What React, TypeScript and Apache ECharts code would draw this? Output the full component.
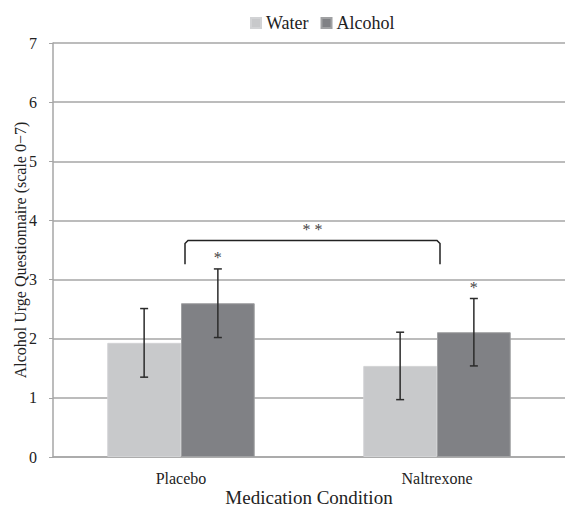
import React, { useEffect, useRef } from "react";
import * as echarts from "echarts";

const categories = ["Placebo", "Naltrexone"];
const seriesNames = ["Water", "Alcohol"];
const waterMeans = [1.93, 1.54];
const alcoholMeans = [2.6, 2.11];
const waterErr = [0.58, 0.57];
const alcoholErr = [0.58, 0.57];
const yTicks = [0, 1, 2, 3, 4, 5, 6, 7];
const bracketY = [3.66, 3.26];
const bracketLabel = "* *";
const starLabel = "*";

const FONT = "'Liberation Serif', 'Times New Roman', serif";
const WATER_COLOR = "#c8c9cb";
const ALCOHOL_COLOR = "#808185";
const BAR_FRAC = 0.288;

export default function App() {
  const ref = useRef<HTMLDivElement>(null);
  useEffect(() => {
    if (!ref.current) return;
    const chart = echarts.init(ref.current, undefined, { renderer: "svg" });

    const errData = (means: number[], errs: number[], side: number) =>
      means.map((m, i) => [i, m - errs[i], m + errs[i], side]);

    const errRender = (params: any, api: any) => {
      const idx = api.value(0);
      const lo = api.value(1);
      const hi = api.value(2);
      const side = api.value(3);
      const band = api.size([1, 0])[0];
      const off = side * band * BAR_FRAC / 2;
      const pLo = api.coord([idx, lo]);
      const pHi = api.coord([idx, hi]);
      const x = pLo[0] + off;
      const cap = 4;
      const style = { stroke: "#2b2b2b", lineWidth: 1.5 };
      return {
        type: "group",
        children: [
          { type: "line", shape: { x1: x, y1: pLo[1], x2: x, y2: pHi[1] }, style },
          { type: "line", shape: { x1: x - cap, y1: pLo[1], x2: x + cap, y2: pLo[1] }, style },
          { type: "line", shape: { x1: x - cap, y1: pHi[1], x2: x + cap, y2: pHi[1] }, style },
        ],
      };
    };

    const starRender = (params: any, api: any) => {
      const idx = api.value(0);
      const top = api.value(1);
      const band = api.size([1, 0])[0];
      const off = band * BAR_FRAC / 2;
      const p = api.coord([idx, top]);
      return {
        type: "text",
        x: p[0] + off,
        y: p[1] - 3,
        style: {
          text: starLabel,
          fontFamily: FONT,
          fontSize: 16,
          fill: "#444",
          align: "center",
          verticalAlign: "bottom",
        },
      };
    };

    const bracketRender = (params: any, api: any) => {
      if (params.dataIndex !== 0) return null;
      const a = api.coord([0, bracketY[0]]);
      const b = api.coord([1, bracketY[0]]);
      const bottom = api.coord([0, bracketY[1]])[1];
      const x1 = a[0] + 4;
      const x2 = b[0] + 3;
      const y = a[1];
      return {
        type: "group",
        children: [
          {
            type: "polyline",
            shape: {
              points: [
                [x1, bottom],
                [x1, y + 3],
                [x1 + 3, y],
                [x2 - 3, y],
                [x2, y + 3],
                [x2, bottom],
              ],
            },
            style: { stroke: "#222", lineWidth: 1.5, fill: "none" },
          },
          {
            type: "text",
            x: (x1 + x2) / 2,
            y: y - 3,
            style: {
              text: bracketLabel,
              fontFamily: FONT,
              fontSize: 16,
              fill: "#444",
              align: "center",
              verticalAlign: "bottom",
            },
          },
        ],
      };
    };

    chart.setOption({
      animation: false,
      textStyle: { fontFamily: FONT },
      grid: {
        left: 45,
        right: 0,
        top: 35,
        bottom: 55,
        containLabel: false,
        outerBoundsMode: "none",
      },
      legend: {
        data: seriesNames,
        top: 1,
        left: 237,
        itemWidth: 10,
        itemHeight: 10,
        itemGap: 12,
        textStyle: { fontFamily: FONT, fontSize: 18, color: "#222" },
        icon: "rect",
      },
      xAxis: {
        type: "category",
        data: categories,
        name: "Medication Condition",
        nameLocation: "middle",
        nameGap: 31,
        nameMoveOverlap: false,
        nameTextStyle: { fontFamily: FONT, fontSize: 19, color: "#222" },
        axisLine: { lineStyle: { color: "#a6a6a6", width: 1.5 } },
        axisTick: { show: false },
        axisLabel: { fontFamily: FONT, fontSize: 16, color: "#222", margin: 13 },
      },
      yAxis: {
        type: "value",
        min: 0,
        max: 7,
        interval: 1,
        name: "Alcohol Urge Questionnaire (scale 0\u22127)",
        nameLocation: "middle",
        nameGap: 25,
        nameMoveOverlap: false,
        nameTextStyle: { fontFamily: FONT, fontSize: 16, color: "#222" },
        axisLine: { show: true, lineStyle: { color: "#a6a6a6", width: 1.5 } },
        axisTick: { show: true, length: 4, lineStyle: { color: "#a6a6a6" } },
        splitLine: { lineStyle: { color: "#a6a6a6", width: 1.5 } },
        axisLabel: {
          fontFamily: FONT,
          fontSize: 16,
          color: "#222",
          margin: 16,
          formatter: (v: number) => (yTicks.includes(v) ? String(v) : ""),
        },
      },
      series: [
        {
          name: seriesNames[0],
          type: "bar",
          data: waterMeans,
          barWidth: BAR_FRAC * 100 + "%",
          barGap: "0%",
          itemStyle: { color: WATER_COLOR, borderColor: "#d2d3d5", borderWidth: 1 },
        },
        {
          name: seriesNames[1],
          type: "bar",
          data: alcoholMeans,
          barWidth: BAR_FRAC * 100 + "%",
          barGap: "0%",
          itemStyle: { color: ALCOHOL_COLOR, borderColor: "#a0a1a3", borderWidth: 1 },
        },
        {
          type: "custom",
          renderItem: errRender,
          data: errData(waterMeans, waterErr, -1),
          z: 10,
          silent: true,
        },
        {
          type: "custom",
          renderItem: errRender,
          data: errData(alcoholMeans, alcoholErr, 1),
          z: 10,
          silent: true,
        },
        {
          type: "custom",
          renderItem: starRender,
          data: alcoholMeans.map((m, i) => [i, m + alcoholErr[i]]),
          z: 10,
          silent: true,
        },
        {
          type: "custom",
          renderItem: bracketRender,
          data: [[0, bracketY[0]]],
          z: 10,
          silent: true,
        },
      ],
    });
    return () => chart.dispose();
  }, []);
  return <div ref={ref} style={{ width: 557, height: 504 }} />;
}
